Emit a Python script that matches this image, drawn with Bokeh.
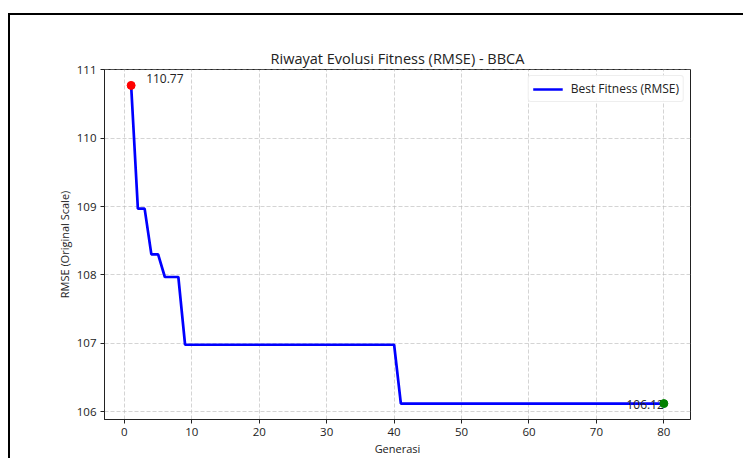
from bokeh.plotting import figure
from bokeh.models import Range1d, FixedTicker, Legend, LegendItem
from bokeh.core.properties import value
from bokeh.embed import file_html
from bokeh.resources import INLINE

generations = list(range(1, 81))
rmse = ([110.77, 108.97, 108.97, 108.30, 108.30, 107.97, 107.97, 107.97]
        + [106.98] * 32
        + [106.12] * 40)
x_ticks = [0, 10, 20, 30, 40, 50, 60, 70, 80]
y_ticks = [106, 107, 108, 109, 110, 111]
title_text = "Riwayat Evolusi Fitness (RMSE) - BBCA"
x_label = "Generasi"
y_label = "RMSE (Original Scale)"
legend_label = "Best Fitness (RMSE)"

FONT = "Open Sans"

span_x = generations[-1] - generations[0]
span_y = max(rmse) - min(rmse)

p = figure(
    frame_width=586, frame_height=350,
    min_border_left=94, min_border_top=54, min_border_right=53, min_border_bottom=20,
    x_range=Range1d(generations[0] - 0.05 * span_x, generations[-1] + 0.05 * span_x),
    y_range=Range1d(min(rmse) - 0.05 * span_y, max(rmse) + 0.05 * span_y),
    output_backend="svg", toolbar_location=None,
    background_fill_color="white", border_fill_color="white",
    styles={"border-left": "2px solid black", "border-top": "2px solid black",
            "margin-top": "13px", "margin-left": "8px"},
)

p.title.text = title_text
p.title.align = "center"
p.title.text_font = FONT
p.title.text_font_size = "14.5px"
p.title.text_font_style = "normal"
p.title.text_color = "#222222"
p.title.offset = 0
p.title.standoff = 4

p.outline_line_color = "#222222"
p.outline_line_width = 1
p.outline_line_alpha = 1

for ax in (p.xaxis[0], p.yaxis[0]):
    ax.major_label_text_font = FONT
    ax.major_label_text_font_size = "11.5px"
    ax.major_label_text_color = "#222222"
    ax.axis_label_text_font = FONT
    ax.axis_label_text_font_size = "11px"
    ax.axis_label_text_font_style = "normal"
    ax.axis_label_text_color = "#222222"
    ax.axis_line_color = "#222222"
    ax.major_tick_line_color = "#222222"
    ax.major_tick_out = 4
    ax.major_tick_in = 0
    ax.minor_tick_line_color = None

p.xaxis.ticker = FixedTicker(ticks=x_ticks)
p.yaxis.ticker = FixedTicker(ticks=y_ticks)
p.xaxis.axis_label = x_label
p.yaxis.axis_label = y_label
p.xaxis.major_label_standoff = 4
p.yaxis.major_label_standoff = 4
p.xaxis.axis_label_standoff = 2
p.yaxis.axis_label_standoff = 2

for g in (p.xgrid[0], p.ygrid[0]):
    g.grid_line_color = "#bbbbbb"
    g.grid_line_dash = "4 2"
    g.grid_line_alpha = 0.8
    g.grid_line_width = 0.8

line = p.line(generations, rmse, line_color="blue", line_width=2.7)

p.text([generations[0]], [rmse[0]], text=[f"{rmse[0]:.2f}"],
       x_offset=15, y_offset=-2, text_align="left", text_baseline="bottom",
       text_font=value(FONT), text_font_size="12px", text_color="#222222")
p.text([generations[-1]], [rmse[-1]], text=[f"{rmse[-1]:.2f}"],
       x_offset=0, y_offset=-4, text_align="right", text_baseline="top",
       text_font=value(FONT), text_font_size="12px", text_color="#222222")

p.scatter([generations[0]], [rmse[0]], size=8, fill_color="red", line_color="red")
p.scatter([generations[-1]], [rmse[-1]], size=8, fill_color="green", line_color="green")

legend = Legend(items=[LegendItem(label=legend_label, renderers=[line])],
                location="top_right")
legend.label_text_font = FONT
legend.label_text_font_size = "12px"
legend.label_text_color = "#222222"
legend.border_line_color = "#dddddd"
legend.border_line_width = 1
legend.border_radius = 3
legend.background_fill_alpha = 0.9
legend.glyph_width = 30
legend.glyph_height = 14
legend.padding = 4
legend.margin = 6
legend.spacing = 0
legend.label_standoff = 8
p.add_layout(legend)

open("out.html", "w").write(file_html(p, INLINE))
